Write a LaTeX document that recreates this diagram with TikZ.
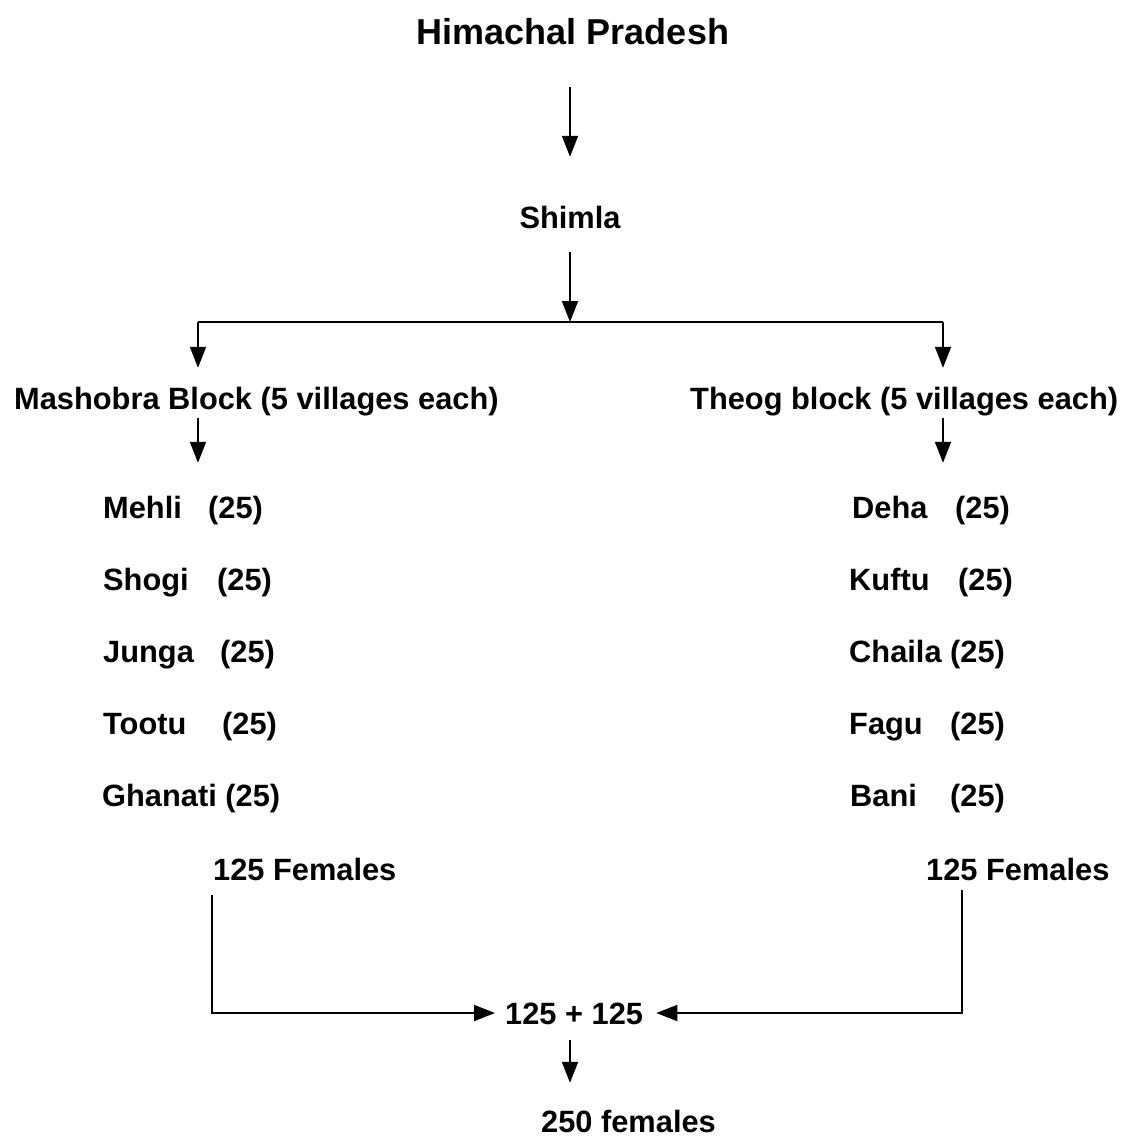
\documentclass[tikz,border=0pt]{standalone}
\usepackage{fontspec}
\setmainfont{Liberation Sans}
\usetikzlibrary{arrows.meta,calc}
\begin{document}
\begin{tikzpicture}[x=1pt,y=-1pt,
  lbl/.style={inner sep=0pt, font=\fontsize{30.8}{37}\selectfont\bfseries, text height=22pt, text depth=0pt},
  arr/.style={line width=1.8pt, -{Triangle[length=21pt,width=16pt]}},
  ln/.style={line width=1.8pt}]
\useasboundingbox (0,0) rectangle (1126,1140);
% texts
\node[lbl, font=\fontsize{36}{43}\selectfont\bfseries, text height=25pt, anchor=base] (hp) at (573,45) {Himachal Pradesh};
\node[lbl, anchor=base] (shimla) at (570,228) {Shimla};
\node[lbl, anchor=base west] (mash) at (14,409) {Mashobra Block (5 villages each)};
\node[lbl, anchor=base west] (theog) at (690,409) {Theog block (5 villages each)};
% left villages
\node[lbl, anchor=base west] (v1) at (103,518) {\makebox[105pt][l]{Mehli}(25)};
\node[lbl, anchor=base west] (v2) at (103,590) {\makebox[114pt][l]{Shogi}(25)};
\node[lbl, anchor=base west] (v3) at (103,662) {\makebox[117pt][l]{Junga}(25)};
\node[lbl, anchor=base west] (v4) at (103,734) {\makebox[119pt][l]{Tootu}(25)};
\node[lbl, anchor=base west] (v5) at (102,806) {Ghanati (25)};
% right villages
\node[lbl, anchor=base west] (w1) at (852,518) {\makebox[103pt][l]{Deha}(25)};
\node[lbl, anchor=base west] (w2) at (849,590) {\makebox[109pt][l]{Kuftu}(25)};
\node[lbl, anchor=base west] (w3) at (849,662) {Chaila (25)};
\node[lbl, anchor=base west] (w4) at (849,734) {\makebox[101pt][l]{Fagu}(25)};
\node[lbl, anchor=base west] (w5) at (850,806) {\makebox[100pt][l]{Bani}(25)};
% totals
\node[lbl, anchor=base west] (fl) at (213,880) {125 Females};
\node[lbl, anchor=base west] (fr) at (926,880) {125 Females};
\node[lbl, anchor=base west] (sum) at (505,1024) {125 + 125};
\node[lbl, anchor=base west] (total) at (541,1132) {250 females};
% helper coordinates
\coordinate (split) at (570,322);
\coordinate (jl) at (198,322);
\coordinate (jr) at (943,322);
\coordinate (xl) at (212,0);
\coordinate (xr) at (962,0);
% connectors
\draw[arr, shorten <=42pt, shorten >=49pt] (hp.south -| shimla.north) -- (shimla.north);
\draw[arr, shorten <=24pt] (shimla.south) -- (split);
\draw[ln] (jl) -- (jr);
\draw[arr, shorten >=19pt] (jl) -- (jl |- mash.north);
\draw[arr, shorten >=19pt] (jr) -- (jr |- theog.north);
\draw[arr, shorten <=9pt, shorten >=33pt] (mash.south -| jl) -- (v1.north -| jl);
\draw[arr, shorten <=9pt, shorten >=33pt] (theog.south -| jr) -- (w1.north -| jr);
\draw[arr, shorten <=15pt, shorten >=10pt] (fl.south -| xl) |- (sum.west);
\draw[arr, shorten <=10pt, shorten >=13pt] (fr.south -| xr) |- (sum.east);
\draw[arr, shorten <=16pt, shorten >=27pt] (sum.south -| shimla.south) -- (total.north -| shimla.south);
\end{tikzpicture}
\end{document}
